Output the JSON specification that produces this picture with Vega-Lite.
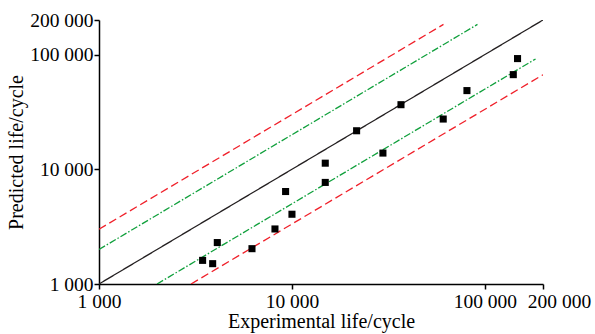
{
  "$schema": "https://vega.github.io/schema/vega-lite/v6.json",
  "width": 444,
  "height": 264,
  "autosize": "none",
  "padding": {"left": 99, "top": 20, "right": 52, "bottom": 50},
  "background": "white",
  "config": {
    "view": {"stroke": null},
    "axis": {
      "labelFont": "Liberation Serif",
      "labelFontSize": 19.5,
      "labelColor": "black",
      "titleFont": "Liberation Serif",
      "titleFontSize": 20,
      "titleFontWeight": "normal",
      "titleColor": "black",
      "domainColor": "black",
      "domainWidth": 1.5,
      "tickColor": "black",
      "tickWidth": 1.5,
      "tickSize": 5,
      "grid": false
    }
  },
  "datasets": {
    "points": [
      {"exp": 3443, "pred": 1607},
      {"exp": 3882, "pred": 1504},
      {"exp": 4103, "pred": 2297},
      {"exp": 6206, "pred": 2032},
      {"exp": 8165, "pred": 3018},
      {"exp": 9269, "pred": 6398},
      {"exp": 10000, "pred": 4055},
      {"exp": 14880, "pred": 11300},
      {"exp": 14880, "pred": 7680},
      {"exp": 21630, "pred": 21660},
      {"exp": 29610, "pred": 13840},
      {"exp": 36730, "pred": 36550},
      {"exp": 60800, "pred": 27400},
      {"exp": 80700, "pred": 48500},
      {"exp": 140300, "pred": 66800},
      {"exp": 147600, "pred": 92200}
    ],
    "bands": [
      {"line": "1x", "type": "solid", "exp": 1000, "pred": 1000},
      {"line": "1x", "type": "solid", "exp": 200000, "pred": 200000},
      {"line": "3x", "type": "dash", "exp": 1000, "pred": 3000},
      {"line": "3x", "type": "dash", "exp": 61000, "pred": 183000},
      {"line": "1/3x", "type": "dash", "exp": 3000, "pred": 1000},
      {"line": "1/3x", "type": "dash", "exp": 200000, "pred": 66667},
      {"line": "2x", "type": "dashdot", "exp": 1000, "pred": 2000},
      {"line": "2x", "type": "dashdot", "exp": 91500, "pred": 183000},
      {"line": "1/2x", "type": "dashdot", "exp": 2000, "pred": 1000},
      {"line": "1/2x", "type": "dashdot", "exp": 183000, "pred": 91500}
    ]
  },
  "layer": [
    {
      "data": {"name": "bands"},
      "mark": {"type": "line", "strokeWidth": 1.3, "clip": true},
      "encoding": {
        "x": {
          "field": "exp", "type": "quantitative",
          "scale": {"type": "log", "domain": [1000, 200000], "nice": false},
          "axis": {
            "values": [1000, 10000, 100000, 200000],
            "labelExpr": "replace(format(datum.value, ','), ',', ' ')",
            "labelOffset": {"condition": {"test": "datum.value == 200000", "value": 16}, "value": 0},
            "title": "Experimental life/cycle",
            "titlePadding": 1,
            "labelPadding": 3,
            "labelOverlap": false,
            "labelBound": false,
            "labelFlush": false
          }
        },
        "y": {
          "field": "pred", "type": "quantitative",
          "scale": {"type": "log", "domain": [1000, 200000], "nice": false},
          "axis": {
            "values": [1000, 10000, 100000, 200000],
            "labelExpr": "replace(format(datum.value, ','), ',', ' ')",
            "title": "Predicted life/cycle",
            "titlePadding": 3,
            "labelPadding": 1,
            "labelOverlap": false
          }
        },
        "detail": {"field": "line"},
        "color": {
          "field": "type", "type": "nominal",
          "scale": {"domain": ["solid", "dashdot", "dash"], "range": ["#231f20", "#10a03c", "#f0202a"]},
          "legend": null
        },
        "strokeDash": {
          "field": "type", "type": "nominal",
          "scale": {"domain": ["solid", "dashdot", "dash"], "range": [[1, 0], [7, 2, 1.5, 2], [8, 4]]},
          "legend": null
        }
      }
    },
    {
      "data": {"name": "points"},
      "mark": {"type": "square", "filled": true, "color": "black", "size": 50, "opacity": 1},
      "encoding": {
        "x": {"field": "exp", "type": "quantitative"},
        "y": {"field": "pred", "type": "quantitative"}
      }
    }
  ]
}
